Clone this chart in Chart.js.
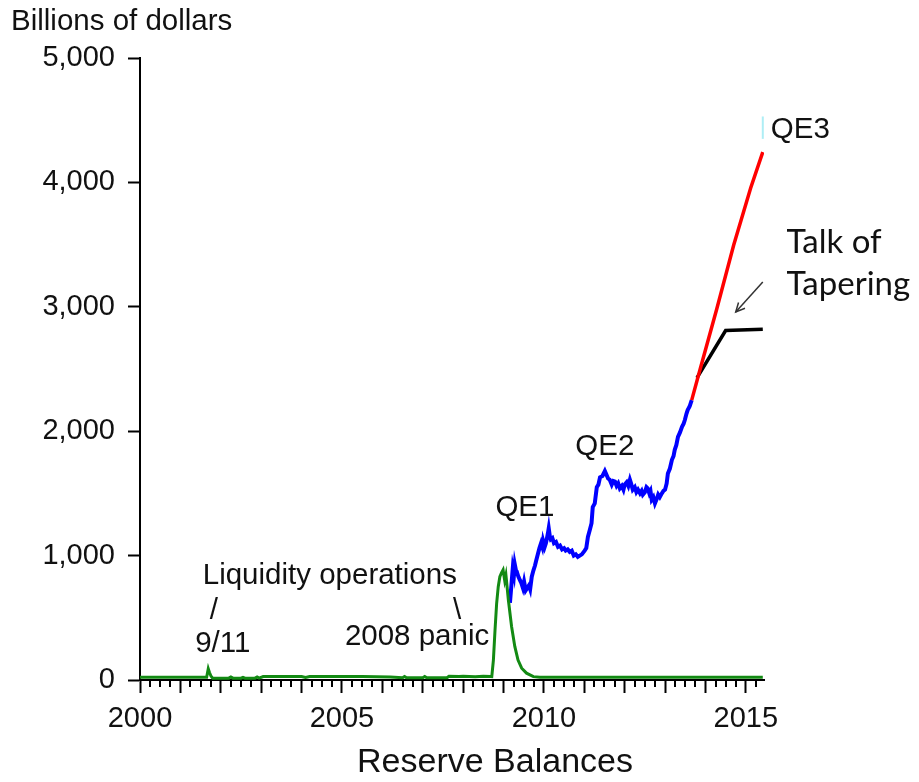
<!DOCTYPE html>
<html>
<head>
<meta charset="utf-8">
<script src="https://cdn.jsdelivr.net/npm/chart.js@4.4.1/dist/chart.umd.min.js"></script>
<style>
  html, body { margin: 0; padding: 0; background: #fff; }
  #wrap { width: 919px; height: 782px; }
</style>
</head>
<body>
<div id="wrap"><canvas id="reserveChart"></canvas></div>
<script>
"use strict"

// liquidity operations (green), years as decimals
const liqYears = [2000.0, 2001.0, 2001.65, 2001.69, 2001.72, 2001.76, 2001.8, 2002.2, 2002.25, 2002.3, 2002.5, 2002.55, 2002.6,
    2002.85, 2002.9, 2002.95, 2003.05, 2004.0, 2004.1, 2004.2, 2005.5, 2006.2, 2006.5, 2006.55, 2006.6, 2007.0, 2007.05,
    2007.1, 2007.6, 2007.65, 2007.9, 2008.0, 2008.3, 2008.5, 2008.68, 2008.71, 2008.75, 2008.79, 2008.83, 2008.87, 2008.91,
    2008.95, 2008.99, 2009.03, 2009.06, 2009.12, 2009.2, 2009.28, 2009.36, 2009.45, 2009.57, 2009.74, 2009.9, 2015.42]
const liqValues = [22, 22, 22, 90, 60, 30, 15, 15, 25, 15, 15, 22, 15,
    15, 25, 15, 28, 28, 20, 28, 28, 25, 18, 28, 18, 18, 28,
    18, 18, 30, 28, 30, 26, 30, 28, 27, 160, 400, 615, 750, 830,
    860, 885, 800, 845, 645, 430, 270, 160, 95, 55, 27, 22, 22]

// reserve balances through QE1 / QE2 (blue)
const qeYears = [2009.16, 2009.2, 2009.23, 2009.26, 2009.28, 2009.31, 2009.33, 2009.37, 2009.41, 2009.44, 2009.48, 2009.51,
    2009.55, 2009.59, 2009.63, 2009.66, 2009.7, 2009.74, 2009.78, 2009.81, 2009.85, 2009.89, 2009.93, 2009.96,
    2009.98, 2010.02, 2010.05, 2010.07, 2010.1, 2010.12, 2010.15, 2010.17, 2010.21, 2010.25, 2010.3, 2010.35, 2010.4,
    2010.45, 2010.5, 2010.54, 2010.59, 2010.64, 2010.69, 2010.74, 2010.79, 2010.84, 2010.89, 2010.94,
    2011.01, 2011.05, 2011.09, 2011.14, 2011.18, 2011.21, 2011.26, 2011.31, 2011.35, 2011.39, 2011.45, 2011.51, 2011.55,
    2011.59, 2011.63, 2011.68, 2011.72, 2011.76, 2011.8, 2011.84, 2011.88, 2011.93, 2011.97, 2012.0, 2012.05, 2012.09,
    2012.13, 2012.16, 2012.2, 2012.25, 2012.29, 2012.33, 2012.38, 2012.42, 2012.45, 2012.5, 2012.54, 2012.57, 2012.61,
    2012.64, 2012.67, 2012.71, 2012.75, 2012.8, 2012.83, 2012.87, 2012.92, 2012.96, 2013.0, 2013.04, 2013.07, 2013.12,
    2013.17, 2013.21, 2013.24, 2013.28, 2013.32, 2013.37, 2013.42, 2013.46, 2013.49, 2013.53, 2013.56, 2013.61, 2013.66]
const qeValues = [620, 780, 900, 850, 930, 880, 870, 830, 800, 780, 740, 790,
    720, 740, 760, 730, 830, 880, 920, 960, 1010, 1060, 1100, 1070,
    1120, 1070, 1100, 1130, 1180, 1220, 1150, 1130, 1140, 1100, 1110, 1070, 1080,
    1050, 1060, 1040, 1050, 1030, 1040, 1000, 1010, 990, 1000, 1010,
    1040, 1060, 1150, 1210, 1260, 1390, 1420, 1550, 1570, 1630, 1640, 1680, 1650,
    1620, 1610, 1570, 1600, 1595, 1560, 1580, 1540, 1560, 1530, 1570, 1590, 1560,
    1610, 1580, 1530, 1550, 1510, 1530, 1500, 1520, 1490, 1510, 1550, 1540, 1500,
    1520, 1450, 1470, 1420, 1460, 1490, 1470, 1500, 1520, 1530, 1580, 1660, 1700,
    1770, 1800, 1850, 1890, 1955, 1990, 2035, 2060, 2090, 2140, 2170, 2200, 2250]

// QE3 path (red)
const qe3Years = [2013.66, 2013.87, 2014.28, 2014.7, 2015.12, 2015.42]
const qe3Values = [2250, 2500, 2982, 3497, 3955, 4244]

// talk of tapering (black)
const taperYears = [2013.79, 2014.5, 2015.42]
const taperValues = [2428, 2809, 2820]

// small cyan mark next to QE3
const markYears = [2015.42, 2015.42]
const markValues = [4350, 4530]

const yearTicks = [2000, 2001, 2002, 2003, 2004, 2005, 2006, 2007, 2008, 2009, 2010, 2011, 2012, 2013, 2014, 2015]
const valueTicks = [0, 1000, 2000, 3000, 4000, 5000]

function pairs(xs, ys) {
    return xs.map((x, i) => ({ x: x, y: ys[i] }))
}

const textColor = '#111'
const sans = 'Liberation Sans, Arial, sans-serif'

// texts, arrow and quarterly minor ticks
const notesPlugin = {
    id: 'notes',
    afterDraw(chart) {
        const ctx = chart.ctx
        const xs = chart.scales.x
        const ys = chart.scales.y
        const px = v => xs.getPixelForValue(v)
        const py = v => ys.getPixelForValue(v)

        ctx.save()
        // minor ticks
        ctx.strokeStyle = '#000'
        ctx.lineWidth = 2
        const bottom = chart.chartArea.bottom
        for (let q = 2000.25; q < 2015.45; q += 0.25) {
            if (Math.abs(q - Math.round(q)) < 0.01) continue
            const x = Math.round(px(q))
            ctx.beginPath()
            ctx.moveTo(x, bottom)
            ctx.lineTo(x, bottom + 7)
            ctx.stroke()
        }

        ctx.fillStyle = textColor
        ctx.textBaseline = 'middle'
        ctx.font = '29.5px ' + sans
        ctx.textAlign = 'left'
        ctx.fillText('Billions of dollars', 11, 22)

        ctx.font = '34px ' + sans
        ctx.textAlign = 'center'
        ctx.fillText('Reserve Balances', 495, 763)

        ctx.font = '29.5px ' + sans
        ctx.textAlign = 'center'
        ctx.fillText('QE1', px(2009.53), py(1383))
        ctx.fillText('QE2', px(2011.51), py(1873))
        ctx.fillText('Liquidity operations', px(2004.7), py(836))
        ctx.fillText('/', px(2001.83), py(555))
        ctx.fillText('9/11', px(2002.05), py(289))
        ctx.fillText('\\', px(2007.85), py(555))
        ctx.fillText('2008 panic', px(2006.86), py(346))
        ctx.textAlign = 'left'
        ctx.fillText('QE3', px(2015.62), py(4421))

        ctx.font = '33px Lato, sans-serif'
        ctx.fillText('Talk of', px(2016.01), py(3521))
        ctx.fillText('Tapering', px(2016.01), py(3183))

        // arrow to the tapering line
        const x1 = px(2015.42), y1 = py(3199)
        const x2 = px(2014.75), y2 = py(2958)
        ctx.strokeStyle = '#333'
        ctx.lineWidth = 1.5
        ctx.beginPath()
        ctx.moveTo(x1, y1)
        ctx.lineTo(x2, y2)
        ctx.stroke()
        const ang = Math.atan2(y2 - y1, x2 - x1)
        ctx.beginPath()
        ctx.moveTo(x2 - 10 * Math.cos(ang - 0.45), y2 - 10 * Math.sin(ang - 0.45))
        ctx.lineTo(x2, y2)
        ctx.lineTo(x2 - 10 * Math.cos(ang + 0.45), y2 - 10 * Math.sin(ang + 0.45))
        ctx.stroke()
        ctx.restore()
    }
}

const ctx = document.getElementById('reserveChart')
const myChart = new Chart(ctx, {
    type: 'line',
    data: {
        datasets: [{
            label: 'Liquidity operations',
            data: pairs(liqYears, liqValues),
            borderColor: '#138a13',
            borderWidth: 3,
        },
        {
            label: 'QE3',
            data: pairs(qe3Years, qe3Values),
            borderColor: '#ff0000',
            borderWidth: 3.5,
        },
        {
            label: 'Talk of Tapering',
            data: pairs(taperYears, taperValues),
            borderColor: '#000000',
            borderWidth: 3.5,
        },
        {
            label: 'QE1 / QE2',
            data: pairs(qeYears, qeValues),
            borderColor: '#0000ff',
            borderWidth: 4,
        },
        {
            label: 'mark',
            data: pairs(markYears, markValues),
            borderColor: '#aeeef5',
            borderWidth: 2,
        }]
    },
    options: {
        responsive: true,
        maintainAspectRatio: false,
        animation: false,
        events: [],
        layout: {
            padding: { top: 58, left: 0, right: 155, bottom: 0 }
        },
        elements: {
            point: { radius: 0 },
            line: { tension: 0, borderCapStyle: 'butt', borderJoinStyle: 'miter' }
        },
        plugins: {
            legend: { display: false },
            tooltip: { enabled: false },
            title: { display: false },
        },
        scales: {
            x: {
                type: 'linear',
                min: 2000,
                max: 2015.45,
                afterFit: scale => { scale.height = 102 },
                afterBuildTicks: scale => { scale.ticks = yearTicks.map(v => ({ value: v })) },
                border: { display: true, color: '#000', width: 2 },
                grid: { display: true, drawOnChartArea: false, tickLength: 13, tickWidth: 2, tickColor: '#000' },
                ticks: {
                    autoSkip: false,
                    maxRotation: 0,
                    padding: 9,
                    color: textColor,
                    font: { family: sans, size: 29 },
                    callback: v => (v % 5 === 0 ? String(v) : '')
                }
            },
            y: {
                type: 'linear',
                min: 0,
                max: 5000,
                afterFit: scale => { scale.width = 140 },
                afterBuildTicks: scale => { scale.ticks = valueTicks.map(v => ({ value: v })) },
                border: { display: true, color: '#000', width: 2 },
                grid: { display: true, drawOnChartArea: false, tickLength: 12, tickWidth: 2, tickColor: '#000' },
                ticks: {
                    padding: 13,
                    color: textColor,
                    font: { family: sans, size: 29 },
                    callback: v => v.toLocaleString('en-US')
                }
            }
        }
    },
    plugins: [notesPlugin]
});
</script>
</body>
</html>
